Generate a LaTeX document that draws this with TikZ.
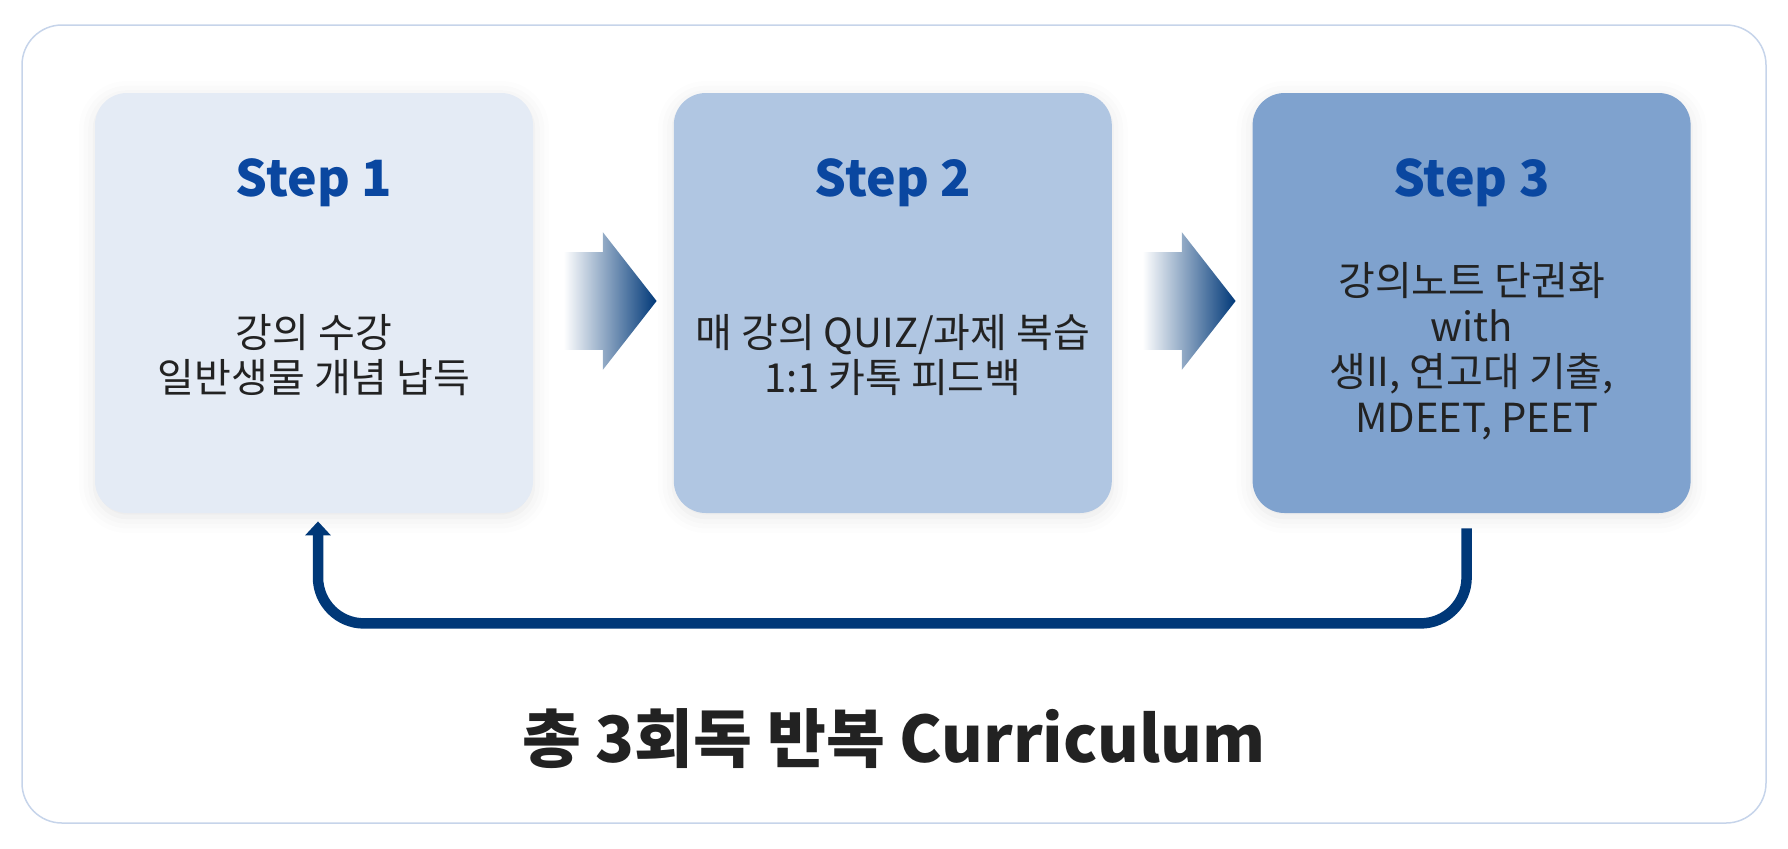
\documentclass[tikz,border=0pt]{standalone}
\usepackage{fontspec}
\setmainfont{Noto Sans CJK KR}
\usetikzlibrary{positioning,shapes.arrows,arrows.meta,shadows.blur}

\definecolor{stepone}{HTML}{E4EBF5}
\definecolor{steptwo}{HTML}{B0C6E2}
\definecolor{stepthree}{HTML}{7FA2CE}
\definecolor{steptext}{HTML}{0A47A0}
\definecolor{navy}{HTML}{003878}
\definecolor{framecol}{HTML}{C6D4EA}
\definecolor{ink}{HTML}{222222}

\begin{document}
\begin{tikzpicture}[x=0.5pt,y=-0.5pt,node distance=70pt,
	stepbox/.style={rectangle,rounded corners=16pt,minimum width=219pt,minimum height=210pt,inner sep=0pt,
		blur shadow={shadow xshift=0pt,shadow yshift=-2pt,shadow blur radius=8pt,shadow opacity=10}},
	steplabel/.style={anchor=base,text=steptext,font=\fontsize{25pt}{30pt}\selectfont\bfseries},
	stepnote/.style={align=center,text=ink,font=\fontsize{20pt}{22.75pt}\selectfont},
	flow/.style={single arrow,single arrow head extend=10pt,single arrow tip angle=104,
		inner xsep=0pt,inner ysep=24.25pt,minimum height=46.5pt,left color=white,right color=navy},
	loopback/.style={draw=navy,line width=5.25pt,rounded corners=23pt,-{Triangle[width=12.5pt,length=7pt]}}]
	\useasboundingbox (0,0) rectangle (1788,848);
	\draw[framecol,line width=0.75pt,rounded corners=20pt] (22,25) rectangle (1766,823);

	\node[stepbox,fill=stepone] (box1) at (314,303) {};
	\node[stepbox,fill=steptwo] (box2) [right=of box1] {};
	\node[stepbox,fill=stepthree] (box3) [right=of box2] {};

	\node[steplabel] (label1) at ([yshift=-52pt]box1.north) {Step 1};
	\node[steplabel] (label2) at ([yshift=-52pt]box2.north) {Step 2};
	\node[steplabel] (label3) at ([yshift=-52pt]box3.north) {Step 3};

	\node[stepnote] (note1) at ([yshift=-26pt]box1.center) {강의 수강\\일반생물 개념 납득};
	\node[stepnote] (note2) at ([yshift=-26pt]box2.center) {매 강의 QUIZ/과제 복습\\1:1 카톡 피드백};
	\node[stepnote] (note3) at ([yshift=-24pt]box3.center) {강의노트 단권화\\with\\생II, 연고대 기출,\\\hspace*{0.25em}MDEET, PEET};

	\node[flow] (flow1) at (591,301) {};
	\node[flow] (flow2) at (1170,301) {};

	\draw[loopback] ([xshift=-2.5pt,yshift=-7.5pt]box3.south) -- ++(0,95) -| ([xshift=2pt,yshift=-4pt]box1.south);

	\node[anchor=base,text=ink,font=\fontsize{32pt}{38pt}\selectfont\bfseries] (title) at (894,762) {총 3회독 반복 Curriculum};
\end{tikzpicture}
\end{document}
